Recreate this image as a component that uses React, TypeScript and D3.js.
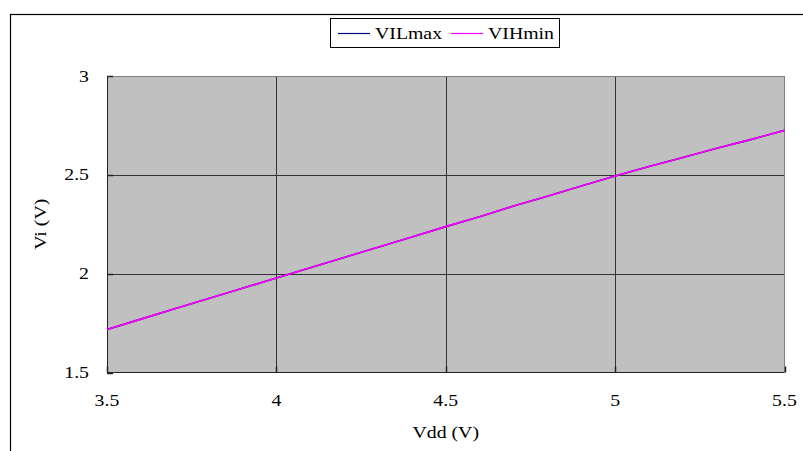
import React from "react";
import * as d3 from "d3";

const vdd = [3.5, 3.6, 3.7, 3.8, 3.9, 4.0, 4.1, 4.2, 4.3, 4.4, 4.5, 4.6, 4.7, 4.8, 4.9, 5.0, 5.1, 5.2, 5.3, 5.4, 5.5];
const vilMax = [1.718, 1.770, 1.822, 1.874, 1.926, 1.978, 2.030, 2.082, 2.134, 2.186, 2.238, 2.288, 2.342, 2.392, 2.444, 2.494, 2.542, 2.588, 2.634, 2.678, 2.725];
const vihMin = [1.718, 1.770, 1.822, 1.874, 1.926, 1.978, 2.030, 2.082, 2.134, 2.186, 2.238, 2.288, 2.342, 2.392, 2.444, 2.494, 2.542, 2.588, 2.634, 2.678, 2.725];
const xTicks = [3.5, 4, 4.5, 5, 5.5];
const yTicks = [1.5, 2, 2.5, 3];
const seriesNames = ["VILmax", "VIHmin"];
const seriesColors = ["#000080", "#FF00FF"];

const W = 803, H = 451;
const L = 107, R = 784.5, T = 76, B = 372.5;
const FONT = "Liberation Serif, Times New Roman, serif";
const FS = 16.5;
const SX = 1.2;

function T2(props: { x: number; y: number; anchor?: string; children: React.ReactNode; rotate?: boolean }) {
  const { x, y, anchor = "start", children, rotate } = props;
  const tr = rotate ? `translate(${x},${y}) rotate(-90) scale(${SX},1)` : `translate(${x},${y}) scale(${SX},1)`;
  return (
    <text transform={tr} textAnchor={anchor} fontSize={FS} style={{ fontFamily: FONT }} fill="#000">
      {children}
    </text>
  );
}

export default function App() {
  const x = d3.scaleLinear().domain([3.5, 5.5]).range([L, R]);
  const y = d3.scaleLinear().domain([1.5, 3]).range([B, T]);
  const line = d3.line<number>().x((_, i) => x(vdd[i])).y((d) => y(d));
  const series = [vilMax, vihMin];
  return (
    <svg width={W} height={H} style={{ position: "absolute", left: 0, top: 0, fontFamily: FONT }}>
      <rect x={0} y={0} width={W} height={H} fill="#fff" />
      <rect x={10.5} y={14.5} width={W + 20} height={H + 20} fill="none" stroke="#000" strokeWidth={1.2} />
      <rect x={L} y={T} width={R - L} height={B - T} fill="#C0C0C0" />
      {xTicks.slice(1, -1).map((t) => (
        <line key={"gx" + t} x1={Math.round(x(t)) + 0.5} x2={Math.round(x(t)) + 0.5} y1={T} y2={B} stroke="#333" strokeWidth={1} />
      ))}
      {yTicks.slice(1, -1).map((t) => (
        <line key={"gy" + t} x1={L} x2={R} y1={Math.round(y(t)) + 0.5} y2={Math.round(y(t)) + 0.5} stroke="#333" strokeWidth={1} />
      ))}
      <line x1={L} x2={R} y1={T + 0.5} y2={T + 0.5} stroke="#808080" />
      <line x1={R} x2={R} y1={T} y2={B} stroke="#808080" />
      <line x1={L + 0.5} x2={L + 0.5} y1={T} y2={B} stroke="#222" />
      <line x1={L} x2={R} y1={B} y2={B} stroke="#222" />
      {yTicks.map((t) => (
        <line key={"ty" + t} x1={L} x2={L + 6} y1={Math.round(y(t)) + 0.5} y2={Math.round(y(t)) + 0.5} stroke="#222" strokeWidth={1.5} />
      ))}
      {xTicks.map((t) => (
        <line key={"tx" + t} x1={Math.round(x(t)) + 0.5} x2={Math.round(x(t)) + 0.5} y1={B} y2={B - 6} stroke="#222" strokeWidth={1.5} />
      ))}
      {series.map((s, i) => (
        <path key={i} d={line(s) || ""} fill="none" stroke={seriesColors[i]} strokeWidth={1.6} />
      ))}
      {yTicks.map((t) => (
        <T2 key={"ly" + t} x={89} y={y(t) + 5.5} anchor="end">{t}</T2>
      ))}
      {xTicks.map((t) => (
        <T2 key={"lx" + t} x={x(t)} y={406} anchor="middle">{t}</T2>
      ))}
      <T2 x={(L + R) / 2} y={438} anchor="middle">Vdd (V)</T2>
      <T2 x={46} y={(T + B) / 2} anchor="middle" rotate>Vi (V)</T2>
      <rect x={330.5} y={18.5} width={229} height={29} fill="#fff" stroke="#000" strokeWidth={1} />
      {seriesNames.map((n, i) => (
        <g key={n} transform={`translate(${338 + i * 113},0)`}>
          <line x1={0} x2={32} y1={33.5} y2={33.5} stroke={seriesColors[i]} strokeWidth={1.2} />
          <T2 x={37} y={39}>{n}</T2>
        </g>
      ))}
    </svg>
  );
}
